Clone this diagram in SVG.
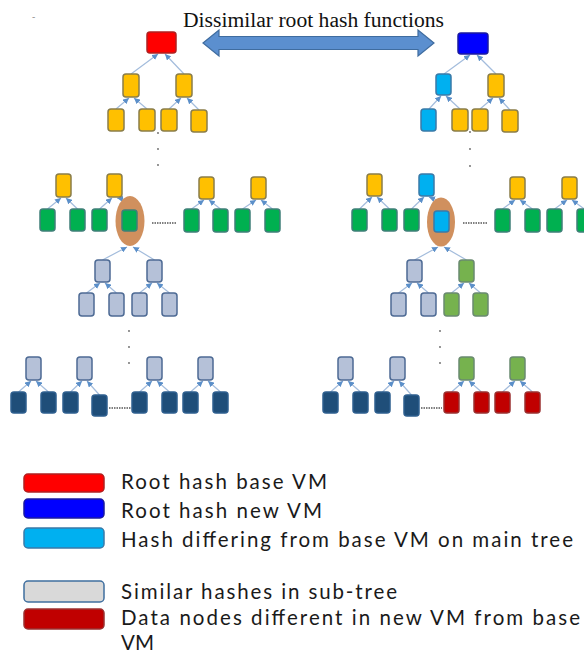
<svg xmlns="http://www.w3.org/2000/svg" width="584" height="655" viewBox="0 0 584 655">
<defs>
<marker id="ah" markerWidth="6" markerHeight="6" refX="6" refY="3" orient="auto" markerUnits="userSpaceOnUse">
<path d="M0,0 L6,3 L0,6 z" fill="#5b8fc9"/>
</marker>
<style>
.n{stroke-width:1.5}
.rt{fill:#ff0000;stroke:#b02020}
.bt{fill:#0000ff;stroke:#1a1aa0}
.y{fill:#ffc000;stroke:#8a7d4a}
.c{fill:#00b0f0;stroke:#3a7aa8}
.g{fill:#00b050;stroke:#3f7f78}
.lg{fill:#76b24e;stroke:#6a8a70}
.gr{fill:#b5c1d8;stroke:#4d6a94}
.db{fill:#1f4e79;stroke:#2e5f8f}
.dr{fill:#c00000;stroke:#9a3030}
.lgy{fill:#d9d9d9;stroke:#3f6f9f}
.cn line{stroke:#a3bcdc;stroke-width:1.2;marker-end:url(#ah)}
.cn line.d{stroke:#555;stroke-width:1.5;stroke-dasharray:1.5 1;marker-end:none}
.dot{fill:#666}
.lt{font-family:Lato,"Liberation Sans",sans-serif;font-size:20.5px;fill:#1a1a1a}
</style>
</defs>
<rect width="584" height="655" fill="#ffffff"/>
<text x="32" y="20" font-family="Liberation Sans, sans-serif" font-size="10" fill="#999">-</text>
<text x="183" y="27" font-family="Liberation Serif, serif" font-size="20" fill="#111" textLength="261" lengthAdjust="spacingAndGlyphs">Dissimilar root hash functions</text>
<g id="dissimilar-arrow">
<polygon points="203,43 219,30 219,36.5 418,36.5 418,30 434,43 418,56 418,49.5 219,49.5 219,56" fill="#5b8fcf" stroke="#3f6c9f" stroke-width="1.2"/>
</g>

<g class="cn" id="connectors">
<line x1="131" y1="74" x2="158" y2="54"/><line x1="184" y1="74" x2="165" y2="54"/>
<line x1="116" y1="109" x2="129" y2="98"/><line x1="147" y1="109" x2="134" y2="98"/>
<line x1="169" y1="109" x2="181" y2="98"/><line x1="199" y1="110" x2="187" y2="98"/>
<line x1="444" y1="74" x2="470" y2="55"/><line x1="496" y1="74" x2="477" y2="55"/>
<line x1="429" y1="109" x2="441" y2="96"/><line x1="460" y1="109" x2="446" y2="96"/>
<line x1="480" y1="109" x2="493" y2="98"/><line x1="510" y1="110" x2="499" y2="98"/>
<line x1="47.5" y1="209" x2="61" y2="198"/><line x1="77.5" y1="209" x2="66" y2="198"/>
<line x1="99.5" y1="209" x2="112" y2="198"/><line x1="129.5" y1="200" x2="117" y2="198"/>
<line x1="191.5" y1="209" x2="204" y2="200"/><line x1="220.5" y1="209" x2="209" y2="200"/>
<line x1="242.5" y1="209" x2="256" y2="200"/><line x1="272.5" y1="209" x2="261" y2="200"/>
<line class="d" x1="152" y1="223" x2="176" y2="223"/>
<line x1="359.5" y1="209" x2="372" y2="197"/><line x1="389.5" y1="209" x2="377" y2="197"/>
<line x1="411.5" y1="209" x2="424" y2="197"/><line x1="439" y1="201" x2="429" y2="197"/>
<line x1="502.5" y1="209" x2="515" y2="200"/><line x1="532.5" y1="209" x2="520" y2="200"/>
<line x1="554.5" y1="209" x2="567" y2="200"/><line x1="584.5" y1="209" x2="572" y2="200"/>
<line class="d" x1="463" y1="223" x2="487" y2="223"/>
<line x1="102.5" y1="260" x2="127" y2="247"/><line x1="154.5" y1="260" x2="133" y2="247"/>
<line x1="86.5" y1="293" x2="100" y2="283"/><line x1="116.5" y1="293" x2="105" y2="283"/>
<line x1="139.5" y1="293" x2="152" y2="283"/><line x1="169.5" y1="293" x2="157" y2="283"/>
<line x1="18.5" y1="392" x2="31" y2="381"/><line x1="48.5" y1="392" x2="36" y2="381"/>
<line x1="70.5" y1="392" x2="82" y2="381"/><line x1="99.5" y1="395" x2="87" y2="381"/>
<line x1="139.5" y1="392" x2="152" y2="381"/><line x1="169.5" y1="392" x2="157" y2="381"/>
<line x1="190.5" y1="392" x2="203" y2="381"/><line x1="220.5" y1="392" x2="208" y2="381"/>
<line class="d" x1="109" y1="408" x2="131" y2="408"/>
<line x1="414.5" y1="260" x2="438" y2="247"/><line x1="466.5" y1="260" x2="444" y2="247"/>
<line x1="398.5" y1="293" x2="412" y2="283"/><line x1="428.5" y1="293" x2="417" y2="283"/>
<line x1="451.5" y1="293" x2="464" y2="283"/><line x1="480.5" y1="293" x2="469" y2="283"/>
<line x1="330.5" y1="392" x2="343" y2="381"/><line x1="360.5" y1="392" x2="348" y2="381"/>
<line x1="382.5" y1="392" x2="394" y2="381"/><line x1="411.5" y1="395" x2="399" y2="381"/>
<line x1="451.5" y1="392" x2="464" y2="381"/><line x1="481.5" y1="392" x2="469" y2="381"/>
<line x1="502.5" y1="392" x2="515" y2="381"/><line x1="532.5" y1="392" x2="520" y2="381"/>
<line class="d" x1="421" y1="408" x2="442" y2="408"/>
</g>

<g id="dots">
<circle class="dot" cx="158" cy="133" r="0.9"/><circle class="dot" cx="158" cy="149" r="0.9"/><circle class="dot" cx="158" cy="165" r="0.9"/>
<circle class="dot" cx="470" cy="132" r="0.9"/><circle class="dot" cx="470" cy="149" r="0.9"/><circle class="dot" cx="470" cy="166" r="0.9"/>
<circle class="dot" cx="129" cy="331" r="0.9"/><circle class="dot" cx="129" cy="347" r="0.9"/><circle class="dot" cx="129" cy="363" r="0.9"/>
<circle class="dot" cx="440" cy="331" r="0.9"/><circle class="dot" cx="440" cy="347" r="0.9"/><circle class="dot" cx="440" cy="363" r="0.9"/>
</g>

<g id="root-base"><rect class="n rt" x="147" y="32" width="29" height="21" rx="3"/></g>
<g id="tl-l2a"><rect class="n y" x="123" y="74" width="16" height="23" rx="3"/></g>
<g id="tl-l2b"><rect class="n y" x="176" y="74" width="16" height="23" rx="3"/></g>
<g id="tl-l3a"><rect class="n y" x="108" y="109" width="16" height="22" rx="3"/></g>
<g id="tl-l3b"><rect class="n y" x="139" y="109" width="16" height="22" rx="3"/></g>
<g id="tl-l3c"><rect class="n y" x="161" y="109" width="16" height="22" rx="3"/></g>
<g id="tl-l3d"><rect class="n y" x="191" y="110" width="16" height="22" rx="3"/></g>

<g id="root-new"><rect class="n bt" x="458" y="33" width="30" height="21" rx="3"/></g>
<g id="tr-l2a"><rect class="n c" x="436" y="74" width="15" height="21" rx="3"/></g>
<g id="tr-l2b"><rect class="n y" x="488" y="74" width="16" height="23" rx="3"/></g>
<g id="tr-l3a"><rect class="n c" x="421" y="109" width="15" height="22" rx="3"/></g>
<g id="tr-l3b"><rect class="n y" x="452" y="109" width="16" height="22" rx="3"/></g>
<g id="tr-l3c"><rect class="n y" x="472" y="109" width="16" height="22" rx="3"/></g>
<g id="tr-l3d"><rect class="n y" x="502" y="110" width="16" height="22" rx="3"/></g>

<g id="ml-y1"><rect class="n y" x="56" y="174" width="15" height="23" rx="3"/></g>
<g id="ml-y2"><rect class="n y" x="107" y="174" width="15" height="23" rx="3"/></g>
<g id="ml-g1"><rect class="n g" x="40" y="209" width="15" height="22" rx="3"/></g>
<g id="ml-g2"><rect class="n g" x="70" y="209" width="15" height="22" rx="3"/></g>
<g id="ml-g3"><rect class="n g" x="92" y="209" width="15" height="22" rx="3"/></g>
<g id="ml-hl">
<ellipse cx="130" cy="221" rx="14.5" ry="25" fill="#d0905e"/>
<rect class="n g" x="122" y="210" width="15" height="21" rx="3"/>
</g>
<g id="ml-y3"><rect class="n y" x="199" y="177" width="15" height="22" rx="3"/></g>
<g id="ml-y4"><rect class="n y" x="251" y="177" width="15" height="22" rx="3"/></g>
<g id="ml-g5"><rect class="n g" x="184" y="209" width="15" height="23" rx="3"/></g>
<g id="ml-g6"><rect class="n g" x="213" y="209" width="15" height="23" rx="3"/></g>
<g id="ml-g7"><rect class="n g" x="235" y="209" width="15" height="23" rx="3"/></g>
<g id="ml-g8"><rect class="n g" x="265" y="209" width="15" height="23" rx="3"/></g>

<g id="mr-y1"><rect class="n y" x="367" y="174" width="15" height="22" rx="3"/></g>
<g id="mr-c1"><rect class="n c" x="419" y="174" width="15" height="22" rx="3"/></g>
<g id="mr-g1"><rect class="n g" x="352" y="209" width="15" height="22" rx="3"/></g>
<g id="mr-g2"><rect class="n g" x="382" y="209" width="15" height="22" rx="3"/></g>
<g id="mr-g3"><rect class="n g" x="404" y="209" width="15" height="22" rx="3"/></g>
<g id="mr-hl">
<ellipse cx="441" cy="222" rx="14" ry="24.5" fill="#d0905e"/>
<rect class="n c" x="434" y="211" width="15" height="21" rx="3"/>
</g>
<g id="mr-y3"><rect class="n y" x="510" y="177" width="15" height="22" rx="3"/></g>
<g id="mr-y4"><rect class="n y" x="562" y="177" width="15" height="22" rx="3"/></g>
<g id="mr-g5"><rect class="n g" x="495" y="209" width="15" height="23" rx="3"/></g>
<g id="mr-g6"><rect class="n g" x="525" y="209" width="15" height="23" rx="3"/></g>
<g id="mr-g7"><rect class="n g" x="547" y="209" width="15" height="23" rx="3"/></g>
<g id="mr-g8"><rect class="n g" x="577" y="209" width="15" height="23" rx="3"/></g>

<g id="sl-a"><rect class="n gr" x="95" y="260" width="15" height="22" rx="3"/></g>
<g id="sl-b"><rect class="n gr" x="147" y="260" width="15" height="22" rx="3"/></g>
<g id="sl-c"><rect class="n gr" x="79" y="293" width="15" height="23" rx="3"/></g>
<g id="sl-d"><rect class="n gr" x="109" y="293" width="15" height="23" rx="3"/></g>
<g id="sl-e"><rect class="n gr" x="132" y="293" width="15" height="23" rx="3"/></g>
<g id="sl-f"><rect class="n gr" x="162" y="293" width="15" height="23" rx="3"/></g>
<g id="sl-p1"><rect class="n gr" x="26" y="357" width="15" height="23" rx="3"/></g>
<g id="sl-p2"><rect class="n gr" x="77" y="357" width="15" height="23" rx="3"/></g>
<g id="sl-p3"><rect class="n gr" x="147" y="357" width="15" height="23" rx="3"/></g>
<g id="sl-p4"><rect class="n gr" x="198" y="357" width="15" height="23" rx="3"/></g>
<g id="sl-d1"><rect class="n db" x="11" y="392" width="15" height="21" rx="3"/></g>
<g id="sl-d2"><rect class="n db" x="41" y="392" width="15" height="21" rx="3"/></g>
<g id="sl-d3"><rect class="n db" x="63" y="392" width="15" height="21" rx="3"/></g>
<g id="sl-d4"><rect class="n db" x="92" y="395" width="15" height="21" rx="3"/></g>
<g id="sl-d5"><rect class="n db" x="132" y="392" width="15" height="21" rx="3"/></g>
<g id="sl-d6"><rect class="n db" x="162" y="392" width="15" height="21" rx="3"/></g>
<g id="sl-d7"><rect class="n db" x="183" y="392" width="15" height="21" rx="3"/></g>
<g id="sl-d8"><rect class="n db" x="213" y="392" width="15" height="21" rx="3"/></g>

<g id="sr-a"><rect class="n gr" x="407" y="260" width="15" height="22" rx="3"/></g>
<g id="sr-b"><rect class="n lg" x="459" y="260" width="15" height="22" rx="3"/></g>
<g id="sr-c"><rect class="n gr" x="391" y="293" width="15" height="23" rx="3"/></g>
<g id="sr-d"><rect class="n gr" x="421" y="293" width="15" height="23" rx="3"/></g>
<g id="sr-e"><rect class="n lg" x="444" y="293" width="15" height="23" rx="3"/></g>
<g id="sr-f"><rect class="n lg" x="473" y="293" width="15" height="23" rx="3"/></g>
<g id="sr-p1"><rect class="n gr" x="338" y="357" width="15" height="23" rx="3"/></g>
<g id="sr-p2"><rect class="n gr" x="390" y="357" width="15" height="23" rx="3"/></g>
<g id="sr-p3"><rect class="n lg" x="459" y="357" width="15" height="23" rx="3"/></g>
<g id="sr-p4"><rect class="n lg" x="510" y="357" width="15" height="23" rx="3"/></g>
<g id="sr-d1"><rect class="n db" x="323" y="392" width="15" height="21" rx="3"/></g>
<g id="sr-d2"><rect class="n db" x="353" y="392" width="15" height="21" rx="3"/></g>
<g id="sr-d3"><rect class="n db" x="375" y="392" width="15" height="21" rx="3"/></g>
<g id="sr-d4"><rect class="n db" x="404" y="395" width="15" height="21" rx="3"/></g>
<g id="sr-r1"><rect class="n dr" x="444" y="392" width="15" height="21" rx="3"/></g>
<g id="sr-r2"><rect class="n dr" x="474" y="392" width="15" height="21" rx="3"/></g>
<g id="sr-r3"><rect class="n dr" x="495" y="392" width="15" height="21" rx="3"/></g>
<g id="sr-r4"><rect class="n dr" x="525" y="392" width="15" height="21" rx="3"/></g>

<g id="legend">
<rect class="n rt" x="24" y="474" width="80" height="18" rx="4"/>
<text class="lt" x="121" y="489" textLength="206" lengthAdjust="spacing">Root hash base VM</text>
<rect class="n bt" x="24" y="499" width="80" height="19" rx="4"/>
<text class="lt" x="121" y="518" textLength="201" lengthAdjust="spacing">Root hash new VM</text>
<rect class="n c" x="24" y="528" width="80" height="20" rx="4"/>
<text class="lt" x="121" y="547" textLength="452" lengthAdjust="spacing">Hash differing from base VM on main tree</text>
<rect class="n lgy" x="24" y="581" width="80" height="21" rx="4"/>
<text class="lt" x="121" y="599" textLength="276" lengthAdjust="spacing">Similar hashes in sub-tree</text>
<rect class="n dr" x="24" y="609" width="80" height="20" rx="4"/>
<text class="lt" x="121" y="625" textLength="459" lengthAdjust="spacing">Data nodes different in new VM from base</text>
<text class="lt" x="121" y="650">VM</text>
</g>
</svg>
